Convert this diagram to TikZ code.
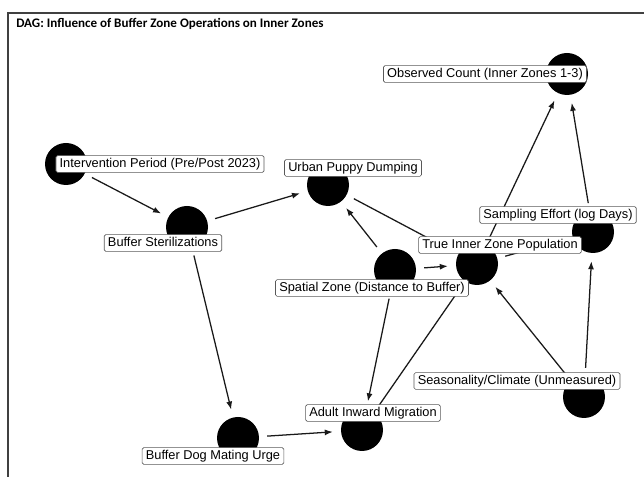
\documentclass[tikz,border=0pt]{standalone}
\usepackage{fontspec}
\setmainfont{Liberation Sans}
\newfontfamily\titlefont{Carlito}
\usetikzlibrary{arrows.meta}
\begin{document}
\begin{tikzpicture}[x=0.75pt,y=-0.75pt,
  dot/.style={circle,fill=black,minimum size=31.5pt,inner sep=0pt},
  lbl/.style={draw=black!65,fill=white,rounded corners=1.2pt,line width=0.5pt,
    font=\fontsize{9.6}{11}\selectfont,inner xsep=2.8pt,inner ysep=1.8pt,
    text height=7pt,text depth=2pt},
  edge/.style={line width=0.95pt,draw=black!90,-{Latex[length=6pt,width=4.5pt]},
    shorten >=6pt,shorten <=6pt}]
\useasboundingbox (0,0) rectangle (644,477);
\draw[line width=1.1pt,black!75] (644,13) -- (8,13) -- (8,477);
\node[anchor=base west,inner sep=0pt,font=\titlefont\bfseries\fontsize{9.8}{11}\selectfont] (title) at (16,28) {DAG: Influence of Buffer Zone Operations on Inner Zones};
% dots
\node[dot] (dIP) at (66,164) {};
\node[dot] (dBS) at (187,227) {};
\node[dot] (dUP) at (328,185) {};
\node[dot] (dOC) at (567,74) {};
\node[dot] (dSE) at (593,232) {};
\node[dot] (dTI) at (477,264) {};
\node[dot] (dSZ) at (395,270) {};
\node[dot] (dSC) at (584,397) {};
\node[dot] (dAM) at (362,430) {};
\node[dot] (dDM) at (238,438) {};
% edges
\draw[edge] (dIP) -- (dBS);
\draw[edge] (dBS) -- (dUP);
\draw[edge] (dBS) -- (dDM);
\draw[edge] (dDM) -- (dAM);
\draw[edge] (dSZ) -- (dUP);
\draw[edge] (dSZ) -- (dTI);
\draw[edge] (dSZ) -- (dAM);
\draw[edge] (dUP) -- (dTI);
\draw[edge] (dAM) -- (dTI);
\draw[edge] (dTI) -- (dOC);
\draw[edge] (dSE) -- (dOC);
\draw[edge] (dSC) -- (dSE);
\draw[edge] (dSC) -- (dTI);
\draw[edge] (dTI) -- (dSE);
% labels
\node[lbl] (lIP) at (160,164) {Intervention Period (Pre/Post 2023)};
\node[lbl] (lBS) at (163,243) {Buffer Sterilizations};
\node[lbl] (lUP) at (353,168) {Urban Puppy Dumping};
\node[lbl] (lOC) at (485,74) {Observed Count (Inner Zones 1-3)};
\node[lbl] (lSE) at (558,215) {Sampling Effort (log Days)};
\node[lbl] (lTI) at (500,245) {True Inner Zone Population};
\node[lbl] (lSZ) at (372,288) {Spatial Zone (Distance to Buffer)};
\node[lbl] (lSC) at (517,381) {Seasonality/Climate (Unmeasured)};
\node[lbl] (lAM) at (373,413) {Adult Inward Migration};
\node[lbl] (lDM) at (213,456) {Buffer Dog Mating Urge};
\end{tikzpicture}
\end{document}
